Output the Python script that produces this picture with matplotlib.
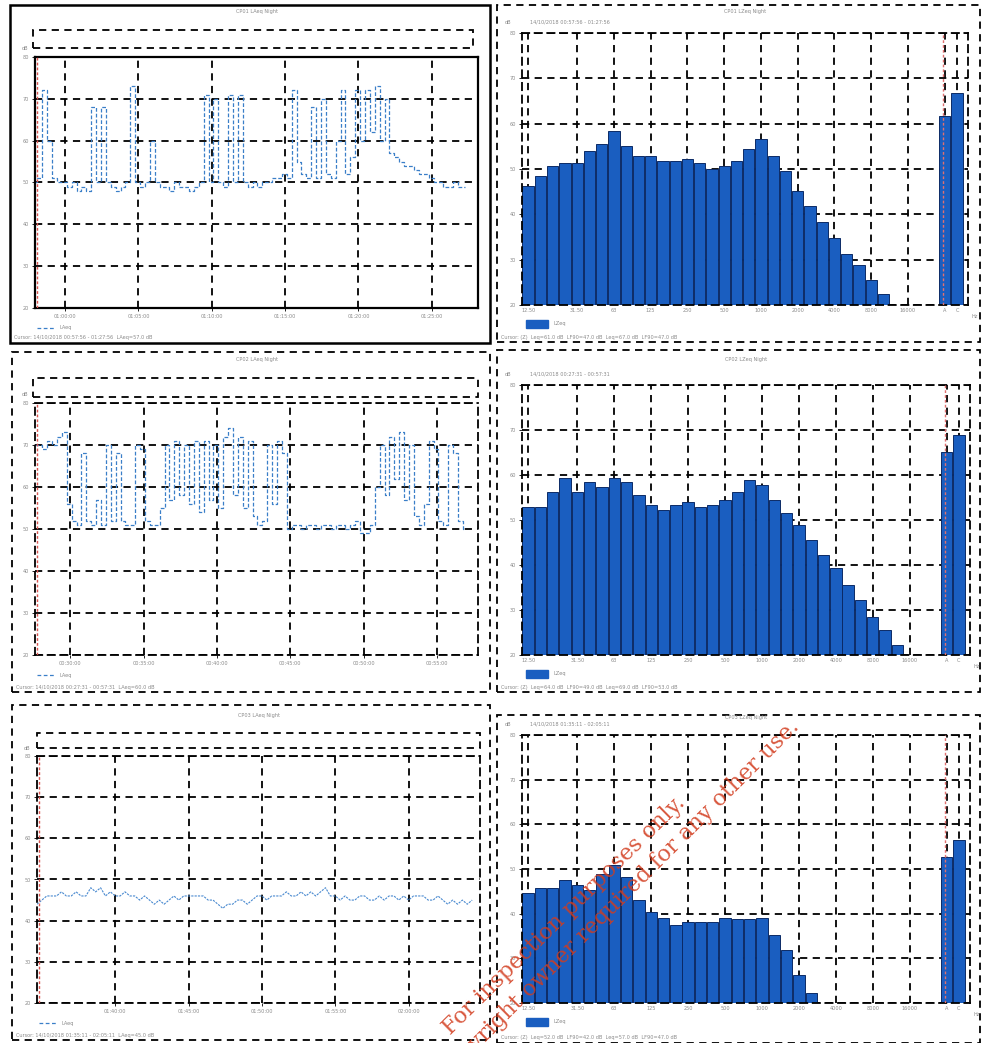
import numpy as np
import matplotlib
matplotlib.use("Agg")
import matplotlib.pyplot as plt
from matplotlib.patches import Rectangle
from matplotlib.lines import Line2D

W, H = 982, 1043

# ---------------- data ----------------
# time histories (LAeq, 20 s samples)
p1_title = "CP01 LAeq Night"
p1_start = 57.95
p1_ticks = [60, 65, 70, 75, 80, 85]
p1_ticklabels = ["01:00:00", "01:05:00", "01:10:00", "01:15:00", "01:20:00", "01:25:00"]
p1_laeq = [50, 51, 72, 60, 51, 50, 50, 49, 50, 48, 49, 48, 68, 50, 68, 50, 49, 48, 49, 50,
           73, 50, 49, 50, 60, 50, 49, 49, 48, 50, 49, 49, 48, 49, 50, 71, 50, 70, 50, 49,
           71, 50, 71, 50, 49, 50, 49, 50, 50, 51, 51, 52, 51, 72, 55, 52, 51, 68, 51, 70,
           52, 51, 60, 72, 52, 56, 72, 60, 72, 62, 73, 60, 70, 57, 56, 55, 54, 54, 53, 52,
           52, 51, 50, 50, 49, 49, 50, 49, 49]
p1_cursor = "Cursor: 14/10/2018 00:57:56 - 01:27:56  LAeq=57.0 dB"

p2_title = "CP02 LAeq Night"
p2_start = 27.6
p2_ticks = [30, 35, 40, 45, 50, 55]
p2_ticklabels = ["00:30:00", "00:35:00", "00:40:00", "00:45:00", "00:50:00", "00:55:00"]
p2_laeq = [70, 70, 69, 71, 70, 72, 73, 56, 52, 51, 68, 52, 51, 57, 51, 70, 52, 68, 52, 51,
           51, 70, 69, 52, 51, 51, 55, 70, 57, 71, 58, 70, 56, 71, 54, 71, 57, 70, 55, 72,
           74, 58, 72, 55, 71, 53, 51, 52, 70, 56, 71, 68, 50, 51, 51, 50, 51, 51, 50, 51,
           51, 50, 51, 51, 50, 51, 52, 49, 49, 51, 60, 70, 58, 72, 62, 73, 57, 70, 53, 51,
           56, 71, 69, 52, 51, 70, 68, 52, 50]
p2_cursor = "Cursor: 14/10/2018 00:27:31 - 00:57:31  LAeq=60.0 dB"

p3_title = "CP03 LAeq Night"
p3_start = 94.66
p3_ticks = [100, 105, 110, 115, 120]
p3_ticklabels = ["01:40:00", "01:45:00", "01:50:00", "01:55:00", "02:00:00"]
p3_laeq = [44, 45, 46, 46, 46, 47, 46, 46, 47, 46, 46, 48, 47, 48, 46, 47, 46, 46, 47, 46,
           46, 45, 46, 45, 44, 45, 44, 45, 46, 45, 46, 46, 46, 46, 46, 45, 45, 44, 43, 44,
           44, 45, 45, 44, 45, 46, 46, 45, 46, 46, 46, 47, 46, 46, 47, 46, 47, 46, 47, 48,
           46, 46, 45, 46, 45, 45, 46, 46, 45, 45, 46, 45, 46, 46, 45, 46, 45, 46, 46, 46,
           45, 45, 46, 45, 44, 45, 44, 45, 44, 45]
p3_cursor = "Cursor: 14/10/2018 01:35:11 - 02:05:11  LAeq=45.0 dB"

# 1/3 octave spectra (LZeq, dB), bands 12.5 Hz .. 20 kHz, then A and C
band_ticks = [0, 4, 7, 10, 13, 16, 19, 22, 25, 28, 31, 34, 35]
band_ticklabels = ["12.50", "31.50", "63", "125", "250", "500", "1000", "2000",
                   "4000", "8000", "16000", "A", "C"]
r1_title = "CP01 LZeq Night"
r1_stamp = "14/10/2018 00:57:56 - 01:27:56"
r1_bands = [46.2, 48.4, 50.7, 51.3, 51.3, 54.0, 55.6, 58.4, 55.1, 52.9, 52.9, 51.8, 51.8,
            52.2, 51.3, 50.0, 50.7, 51.8, 54.4, 56.7, 52.9, 49.6, 45.1, 41.8, 38.4, 34.7,
            31.3, 28.9, 25.6, 22.4, 20.0, 20.0, 20.0]
r1_AC = [61.8, 66.7]
r1_cursor = "Cursor: (Z)  Leq=61.0 dB  LF90=47.0 dB  Leq=67.0 dB  LF90=47.0 dB"

r2_title = "CP02 LZeq Night"
r2_stamp = "14/10/2018 00:27:31 - 00:57:31"
r2_bands = [52.9, 52.9, 56.2, 59.3, 56.2, 58.4, 57.3, 59.3, 58.4, 55.6, 53.3, 52.2, 53.3,
            54.0, 52.9, 53.3, 54.4, 56.2, 58.9, 57.8, 54.4, 51.6, 48.9, 45.6, 42.2, 39.3,
            35.6, 32.2, 28.4, 25.6, 22.2, 20.0, 20.0]
r2_AC = [65.1, 68.9]
r2_cursor = "Cursor: (Z)  Leq=64.0 dB  LF90=49.0 dB  Leq=69.0 dB  LF90=53.0 dB"

r3_title = "CP03 LZeq Night"
r3_stamp = "14/10/2018 01:35:11 - 02:05:11"
r3_bands = [44.7, 45.8, 45.8, 47.6, 46.5, 45.4, 48.8, 51.0, 48.1, 43.1, 40.4, 39.1, 37.5,
            38.2, 38.2, 38.2, 39.1, 38.7, 38.7, 39.1, 35.3, 31.9, 26.3, 22.2, 20.0, 20.0,
            20.0, 20.0, 20.0, 20.0, 20.0, 20.0, 20.0]
r3_AC = [52.6, 56.6]
r3_cursor = "Cursor: (Z)  Leq=52.0 dB  LF90=42.0 dB  Leq=57.0 dB  LF90=47.0 dB"

yticks = [20, 30, 40, 50, 60, 70, 80]

watermark_1 = "For inspection purposes only."
watermark_2 = "Consent of copyright owner required for any other use."

# ---------------- helpers ----------------
fig = plt.figure(figsize=(W / 100, H / 100), dpi=100)
fig.patch.set_facecolor("white")

DASH = (0, (4, 3))
TXT = "#8a8a8a"
FS = 3.6


def fx(x):
    return x / W


def fy(y):
    return 1 - y / H


def add_ax(x0, y0, x1, y1):
    return fig.add_axes([x0 / W, 1 - y1 / H, (x1 - x0) / W, (y1 - y0) / H])


def frect(x0, y0, x1, y1, ls=DASH, lw=1.3, color="black"):
    fig.add_artist(Rectangle((fx(x0), fy(y1)), (x1 - x0) / W, (y1 - y0) / H,
                             fill=False, transform=fig.transFigure,
                             ls=ls, lw=lw, edgecolor=color))


def ftext(x, y, s, **kw):
    kw.setdefault("fontsize", FS)
    kw.setdefault("color", TXT)
    kw.setdefault("va", "center")
    fig.text(fx(x), fy(y), s, **kw)


def style_axes(ax, solid=False):
    for sp in ax.spines.values():
        sp.set_color("black")
        if solid:
            sp.set_linestyle("-")
            sp.set_linewidth(1.6)
        else:
            sp.set_linestyle(DASH)
            sp.set_linewidth(1.3)
    ax.grid(True, color="black", ls=DASH, lw=1.3)
    ax.set_axisbelow(True)
    ax.tick_params(length=2, width=0.6, colors="black", labelsize=FS,
                   labelcolor=TXT, pad=2)
    ax.set_facecolor("white")


def ts_panel(box, outer, inner, title, title_y, values, start, ticks, ticklabels,
             cursor, solid=False, thin=False):
    x0, y0, x1, y1 = box
    frect(*outer, ls="-" if solid else DASH, lw=1.8 if solid else 1.3)
    frect(*inner)
    ax = add_ax(*box)
    t = start + np.arange(len(values)) / 3.0
    if thin:
        ax.plot(t, values, color="#4a8ad0", lw=0.8, ls=(0, (2, 1)))
    else:
        ax.plot(t, values, color="#3a7fc8", lw=0.9, ls=(0, (3, 1.6)),
                drawstyle="steps-mid")
    ax.axvline(start + 0.12, color="#d9534f", lw=1.0, ls=(0, (2, 1.5)), zorder=5)
    ax.set_xlim(start, start + 30.2)
    ax.set_ylim(20, 80)
    ax.set_yticks(yticks)
    ax.set_xticks(ticks)
    ax.set_xticklabels(ticklabels)
    style_axes(ax, solid)
    ftext((x0 + x1) / 2, title_y, title, ha="center")
    ftext(x0 - 13, y0 - 8, "dB")
    # legend
    fig.add_artist(Line2D([fx(x0 + 2), fx(x0 + 20)], [fy(y1 + 20)] * 2,
                          transform=fig.transFigure, color="#3a7fc8",
                          lw=0.9, ls=(0, (3, 2))))
    ftext(x0 + 25, y1 + 20, "LAeq")
    ftext(outer[0] + 4, outer[3] - 5, cursor)
    return ax


def hist_panel(box, outer, title, title_y, stamp, bands, ac, cursor):
    x0, y0, x1, y1 = box
    frect(*outer)
    ax = add_ax(*box)
    idx = np.arange(len(bands))
    vals = np.array(bands)
    ax.bar(idx, vals - 20, bottom=20, width=0.92, color="#1a5ec0",
           edgecolor="#0b2a66", lw=0.7, zorder=2)
    ax.bar([34, 35], np.array(ac) - 20, bottom=20, width=0.92, color="#1a5ec0",
           edgecolor="#0b2a66", lw=0.7, zorder=2)
    ax.axvline(33.9, color="#e07070", lw=1.0, ls=(0, (2, 1.5)), zorder=4)
    ax.set_xlim(-0.5, 35.9)
    ax.set_ylim(20, 80)
    ax.set_yticks(yticks)
    ax.set_xticks(band_ticks)
    ax.set_xticklabels(band_ticklabels)
    style_axes(ax)
    ax.tick_params(axis="x", length=0)
    ftext((x0 + x1) / 2, title_y, title, ha="center")
    ftext(x0 - 17, y0 - 11, "dB")
    ftext(x0 + 8, y0 - 11, stamp)
    ftext(x1 + 3, y1 + 11, "Hz")
    fig.add_artist(Rectangle((fx(x0 + 4), fy(y1 + 23)), 22 / W, 8 / H,
                             transform=fig.transFigure, color="#1a5ec0"))
    ftext(x0 + 32, y1 + 19, "LZeq")
    ftext(outer[0] + 4, outer[3] - 5, cursor)
    return ax


# ---------------- left column ----------------
ts_panel((35, 57, 478, 308), (10, 5, 490, 343), (33, 30, 473, 48), p1_title, 12,
         p1_laeq, p1_start, p1_ticks, p1_ticklabels, p1_cursor, solid=True)
ts_panel((35, 403, 478, 655), (12, 352, 490, 692), (33, 378, 478, 397), p2_title, 360,
         p2_laeq, p2_start, p2_ticks, p2_ticklabels, p2_cursor)
ts_panel((37, 756, 480, 1003), (12, 705, 490, 1040), (37, 733, 480, 748), p3_title, 716,
         p3_laeq, p3_start, p3_ticks, p3_ticklabels, p3_cursor, thin=True)

# ---------------- right column ----------------
hist_panel((522, 33, 968, 305), (497, 5, 980, 342), r1_title, 12, r1_stamp, r1_bands,
           r1_AC, r1_cursor)
hist_panel((522, 385, 970, 655), (497, 350, 980, 692), r2_title, 360, r2_stamp, r2_bands,
           r2_AC, r2_cursor)
hist_panel((522, 735, 970, 1003), (497, 715, 980, 1043), r3_title, 718, r3_stamp, r3_bands,
           r3_AC, r3_cursor)

# ---------------- watermark ----------------
fig.text(fx(450), fy(1035), watermark_1, rotation=44.5,
         rotation_mode="anchor", ha="left", va="baseline", fontsize=16,
         family="DejaVu Serif", color="#d23c1e", alpha=0.85)
fig.text(fx(800), fy(728), watermark_2,
         rotation=45, rotation_mode="anchor", ha="right", va="baseline", fontsize=16,
         family="DejaVu Serif", color="#d23c1e", alpha=0.85)

fig.savefig("out.png", dpi=100, facecolor="white")
